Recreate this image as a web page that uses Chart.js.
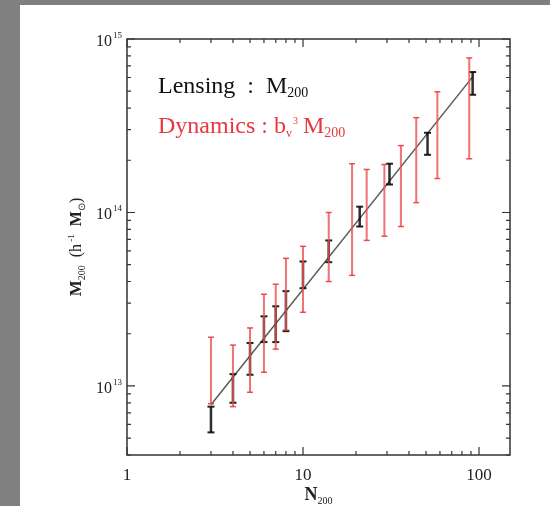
<!DOCTYPE html>
<html>
<head>
<meta charset="utf-8">
<script src="https://cdn.jsdelivr.net/npm/chart.js@4/dist/chart.umd.min.js"></script>
<style>
  html, body { margin: 0; padding: 0; background: #808080; }
  #chart { position: absolute; left: 0; top: 0; }
</style>
</head>
<body>
<canvas id="chart" width="550" height="506"></canvas>
<script>
// Lensing (black): richness N200 and the M200 error range
var lensN  = [3, 4, 5, 6, 7, 8, 10, 14, 21, 31, 51, 92];
var lensLo = [5.4e12, 8.0e12, 1.16e13, 1.79e13, 1.79e13, 2.07e13, 3.66e13, 5.17e13, 8.3e13, 1.45e14, 2.15e14, 4.77e14];
var lensHi = [7.6e12, 1.17e13, 1.77e13, 2.52e13, 2.88e13, 3.52e13, 5.22e13, 6.9e13, 1.08e14, 1.91e14, 2.88e14, 6.45e14];

// Dynamics (red): b_v^3 M200 error range
var dynN  = [3, 4, 5, 6, 7, 8, 10, 14, 19, 23, 29, 36, 44, 58, 88];
var dynLo = [7.9e12, 7.6e12, 9.2e12, 1.2e13, 1.63e13, 2.1e13, 2.66e13, 4.0e13, 4.34e13, 6.9e13, 7.3e13, 8.3e13, 1.14e14, 1.57e14, 2.04e14];
var dynHi = [1.91e13, 1.72e13, 2.16e13, 3.38e13, 3.86e13, 5.44e13, 6.38e13, 1.0e14, 1.91e14, 1.77e14, 1.89e14, 2.43e14, 3.52e14, 4.96e14, 7.78e14];

// power-law fit, end points
var fitN = [3, 92];
var fitM = [7.8e12, 6.05e14];

// tick labels
var xTickValues = [1, 10, 100];
var xTickLabels = ['1', '10', '100'];
var yTickValues = [1e13, 1e14, 1e15];
var yTickExps   = ['13', '14', '15'];

var SERIF = '"Liberation Serif", "Times New Roman", serif';

function barPoints(ns, lo, hi) {
   var pts = [];
   ns.forEach(function(n, i) {
      pts.push({x: n, y: lo[i]}, {x: n, y: hi[i]}, {x: n, y: null});
   });
   return pts;
}

function minorTicks(min, max) {
   var out = [];
   for (var e = Math.floor(Math.log10(min)); e <= Math.ceil(Math.log10(max)); e++) {
      for (var k = 1; k <= 9; k++) {
         var v = k * Math.pow(10, e);
         if (v >= min * 0.999 && v <= max * 1.001) out.push(v);
      }
   }
   return out;
}

function isDecade(v) {
   var l = Math.log10(v);
   return Math.abs(l - Math.round(l)) < 1e-6;
}

// draws text pieces one after another, each with its own size / shift
function richWidth(ctx, segs) {
   var w = 0;
   segs.forEach(function(s) {
      ctx.font = (s.bold ? 'bold ' : '') + s.size + 'px ' + SERIF;
      w += ctx.measureText(s.t).width + (s.gap || 0);
   });
   return w;
}
function drawRich(ctx, x, y, segs, color) {
   ctx.fillStyle = color;
   ctx.textAlign = 'left';
   ctx.textBaseline = 'alphabetic';
   segs.forEach(function(s) {
      ctx.font = (s.bold ? 'bold ' : '') + s.size + 'px ' + SERIF;
      ctx.fillText(s.t, x, y + (s.dy || 0));
      x += ctx.measureText(s.t).width + (s.gap || 0);
   });
}

var frame = {
   id: 'frame',
   beforeDraw: function(chart) {
      var c = chart.ctx;
      c.save();
      c.fillStyle = '#808080';
      c.fillRect(0, 0, chart.width, chart.height);
      c.fillStyle = '#ffffff';
      c.fillRect(20, 5, chart.width - 20, chart.height - 5);
      c.restore();
   },
   afterDraw: function(chart) {
      var c = chart.ctx, a = chart.chartArea;
      var xs = chart.scales.x, ys = chart.scales.y;
      c.save();
      c.strokeStyle = '#333';
      c.lineWidth = 1.5;
      c.strokeRect(a.left, a.top, a.right - a.left, a.bottom - a.top);

      c.lineWidth = 1.2;
      c.beginPath();
      minorTicks(xs.min, xs.max).forEach(function(v) {
         var px = xs.getPixelForValue(v), len = isDecade(v) ? 8 : 4;
         c.moveTo(px, a.bottom); c.lineTo(px, a.bottom - len);
         c.moveTo(px, a.top); c.lineTo(px, a.top + len);
      });
      minorTicks(ys.min, ys.max).forEach(function(v) {
         var py = ys.getPixelForValue(v), len = isDecade(v) ? 8 : 4;
         c.moveTo(a.left, py); c.lineTo(a.left + len, py);
         c.moveTo(a.right, py); c.lineTo(a.right - len, py);
      });
      c.stroke();

      // x tick labels
      c.fillStyle = '#222';
      c.font = '17px ' + SERIF;
      c.textAlign = 'center';
      c.textBaseline = 'alphabetic';
      xTickValues.forEach(function(v, i) {
         c.fillText(xTickLabels[i], xs.getPixelForValue(v), a.bottom + 25);
      });

      // y tick labels 10^n
      yTickValues.forEach(function(v, i) {
         var py = ys.getPixelForValue(v);
         var segs = [{t: '10', size: 16, gap: 1}, {t: yTickExps[i], size: 9, dy: -8}];
         var w = richWidth(c, segs);
         drawRich(c, a.left - 5 - w, py + 7, segs, '#222');
      });

      // axis titles
      var xt = [{t: 'N', size: 18, bold: true}, {t: '200', size: 10, dy: 4}];
      drawRich(c, (a.left + a.right) / 2 - richWidth(c, xt) / 2, 500, xt, '#222');

      var yt = [{t: 'M', size: 17, bold: true}, {t: '200', size: 10, dy: 4},
                {t: '  (h', size: 16}, {t: ' -1', size: 9, dy: -7},
                {t: '  M', size: 16, bold: true}, {t: '\u2299', size: 10, dy: 4},
                {t: ')', size: 16}];
      c.save();
      c.translate(81, (a.top + a.bottom) / 2);
      c.rotate(-Math.PI / 2);
      drawRich(c, -richWidth(c, yt) / 2, 0, yt, '#222');
      c.restore();

      // annotations
      drawRich(c, 158, 93, [{t: 'Lensing  :  M', size: 24}, {t: '200', size: 14, dy: 4}], '#111');
      drawRich(c, 158, 133, [{t: 'Dynamics : b', size: 24}, {t: 'v', size: 12, dy: 4, gap: 1},
                              {t: '3', size: 10, dy: -9, gap: 5}, {t: 'M', size: 24},
                              {t: '200', size: 14, dy: 4}], '#e8383d');
      c.restore();
   }
};

new Chart(document.getElementById('chart'), {
   type: 'line',
   data: {
      datasets: [
         {
            data: barPoints(dynN, dynLo, dynHi),
            borderColor: 'rgba(236, 80, 80, 0.8)',
            borderWidth: 2,
            pointStyle: 'line',
            pointRadius: 3,
            pointBorderColor: 'rgba(236, 60, 60, 0.9)',
            pointBorderWidth: 1.5,
            spanGaps: false,
            fill: false
         },
         {
            data: barPoints(lensN, lensLo, lensHi),
            borderColor: 'rgba(10, 10, 10, 0.85)',
            borderWidth: 2.5,
            pointStyle: 'line',
            pointRadius: 3.5,
            pointBorderColor: 'rgba(10, 10, 10, 0.9)',
            pointBorderWidth: 2,
            spanGaps: false,
            fill: false
         },
         {
            data: fitN.map(function(n, i) { return {x: n, y: fitM[i]}; }),
            borderColor: 'rgba(60, 60, 60, 0.85)',
            borderWidth: 1.5,
            pointRadius: 0,
            fill: false
         }
      ]
   },
   options: {
      responsive: false,
      animation: false,
      layout: { padding: { left: 0, right: 40, top: 39, bottom: 0 } },
      plugins: { legend: { display: false }, tooltip: { enabled: false } },
      scales: {
         x: {
            type: 'logarithmic', min: 1, max: 150,
            grid: { display: false }, border: { display: false }, ticks: { display: false },
            afterFit: function(s) { s.height = 51; }
         },
         y: {
            type: 'logarithmic', min: 4e12, max: 1e15,
            grid: { display: false }, border: { display: false }, ticks: { display: false },
            afterFit: function(s) { s.width = 127; }
         }
      }
   },
   plugins: [frame]
});
</script>
</body>
</html>
